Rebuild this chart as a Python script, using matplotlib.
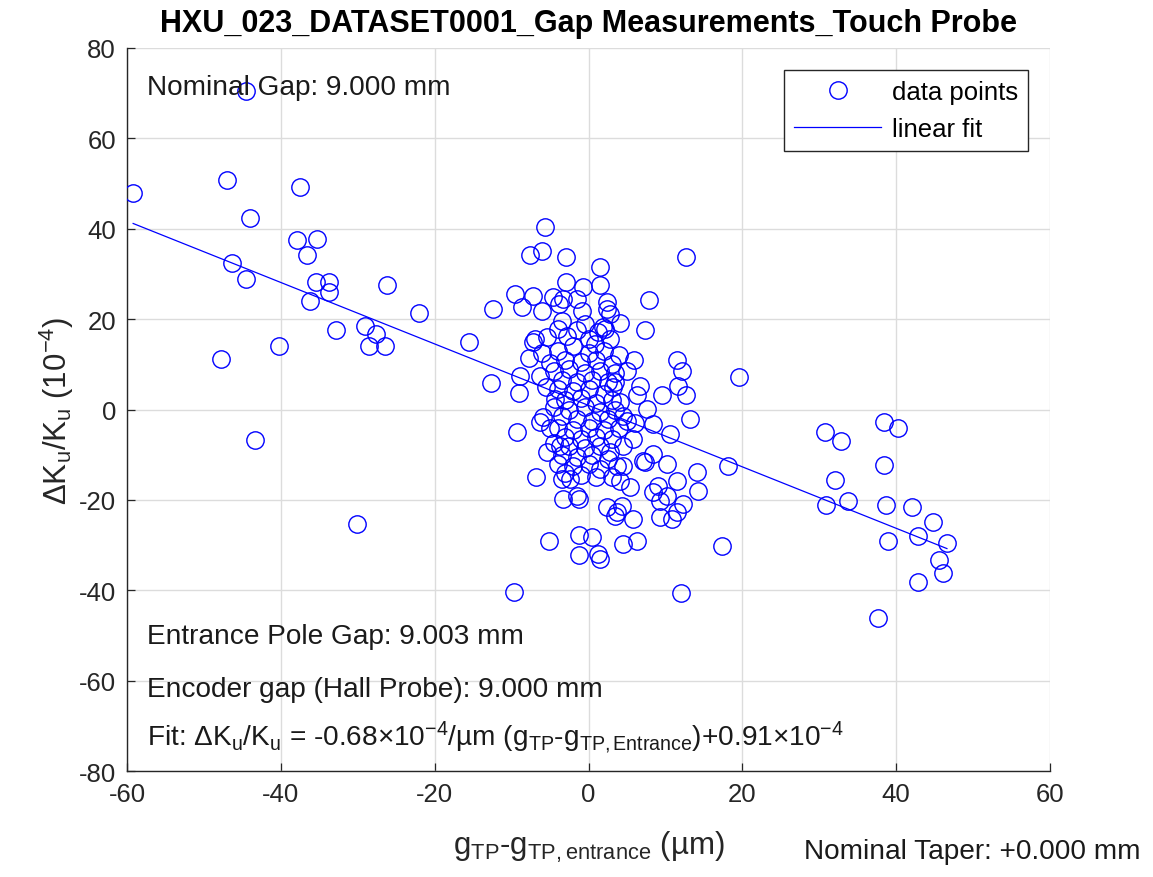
import numpy as np
import matplotlib
matplotlib.use("Agg")
import matplotlib.pyplot as plt

plt.rcParams['font.family'] = ['Liberation Sans', 'DejaVu Sans']
plt.rcParams['mathtext.fontset'] = 'custom'
plt.rcParams['mathtext.rm'] = 'Liberation Sans'
plt.rcParams['mathtext.it'] = 'Liberation Sans'
plt.rcParams['mathtext.bf'] = 'Liberation Sans:bold'
plt.rcParams['axes.unicode_minus'] = False

# ---- data ----
left_x = [-59.2, -44.5, -47.0, -37.5, -44.0, -46.3, -37.9, -35.3, -36.6, -44.5, -35.4, -33.7, -33.7, -36.2,
          -26.2, -22.0, -32.8, -29.0, -27.6, -28.5, -26.4, -47.8, -40.2, -43.3, -30.1, -15.5, -12.4, -12.7]
left_y = [48.0, 70.5, 50.8, 49.2, 42.4, 32.4, 37.5, 37.7, 34.2, 28.9, 28.2, 28.3, 26.0, 24.0,
          27.5, 21.3, 17.6, 18.5, 16.7, 14.0, 14.0, 11.2, 14.0, -6.7, -25.3, 15.0, 22.3, 5.9]

right_x = [19.6, 30.7, 32.8, 38.4, 40.2, 38.4, 32.1, 18.2, 30.9, 33.7, 38.7, 42.0, 44.8, 42.9, 46.6,
           39.0, 45.6, 46.1, 42.9, 37.6, 17.3, 14.1, 14.3, 12.0, -9.7]
right_y = [7.3, -5.0, -7.0, -2.7, -4.2, -12.2, -15.5, -12.6, -21.1, -20.2, -21.1, -21.6, -24.8, -28.1, -29.5,
           -29.2, -33.2, -36.2, -38.1, -46.1, -30.1, -13.9, -18.0, -40.5, -40.4]

center_x = [-5.7, -7.6, -6.0, -2.9, 1.5, 1.5, -2.9, -0.75, -9.6, -7.2, -8.6, -6.0, -4.6, -3.8, -3.3, -1.5,
            -0.9, -4.0, -7.0, -5.4, -2.8, 1.2, 1.9, 12.7, 7.9, 7.3, 2.4, 2.4, 4.1, 2.8, 2.1, 2.8,
            5.9, 11.5, 12.1, 12.7, 11.7, 9.6, 6.7, -9.1, -8.9, -7.8, -7.2,
            -5.0, -6.3, -4.4, -5.9, -6.3, -5.4, -3.7, -9.3,
            13.2, 7.6, 8.4, 10.6, 6.3, 4.1, 3.4, 3.2, 8.4, 2.8, 5.8,
            -6.8, -3.3, -1.3, -5.1, -1.2, 0.5, -1.2, 1.5, 1.3,
            4.5, 6.3, 12.3, 11.5, 9.3, 10.8, 5.8, 3.4, 11.5, 9.1, 8.4, 10.2, 9.3, 7.1, 10.2, 5.4, 4.1,
            2.4, 4.3, 4.5, 1.5, 7.3, 3.7, -1.5, -2.4, -3.5, 3.7]
center_y = [40.3, 34.2, 35.1, 33.7, 31.5, 27.5, 28.3, 27.2, 25.6, 25.2, 22.6, 21.9, 24.8, 23.3, 24.4, 24.4,
            21.9, 17.8, 15.6, 16.0, 16.3, 17.1, 18.3, 33.7, 24.2, 17.6, 23.7, 22.2, 19.1, 21.1, 17.8, 15.6,
            11.0, 11.0, 8.6, 3.1, 5.3, 3.1, 5.3, 3.6, 7.5, 11.5, 14.9,
            10.4, 7.5, 2.3, -1.7, -2.8, -9.5, -8.0, -4.9,
            -2.1, 0.1, -3.2, -5.4, 3.1, 1.6, 6.0, 4.9, -9.8, -9.5, -6.5,
            -15.0, -19.8, -19.8, -29.0, -27.8, -28.3, -32.3, -33.1, -32.0,
            -29.8, -29.0, -20.9, -22.7, -23.9, -24.2, -24.2, -23.5, -15.8, -16.9, -18.3, -19.1, -20.2, -11.3, -12.1, -17.2, -15.8,
            -21.6, -21.3, -12.4, -13.2, -11.7, -12.4, -19.1, -15.4, -15.4, -22.7]

core_x = [-4.0, -2.0, 0.0, 2.0, 4.0, -3.0, -1.0, 1.0, 3.0, -4.5, -2.5, -0.5, 1.5, 3.5, -3.5, -1.5, 0.5, 2.5,
          -4.0, -2.0, 0.0, 2.0, -3.0, -1.0, 1.0, 3.0, -4.5, -2.5, -0.5, 1.5, 3.5, -3.5, -1.5, 0.5, 2.5, 4.5,
          -4.0, -2.0, 0.0, 2.0, 4.0, -3.0, -1.0, 1.0, 3.0, -4.5, -2.5, -0.5, 1.5, -3.5, -1.5, 0.5, 2.5,
          -4.0, -2.0, 0.0, -3.0, -1.0, 1.0, 3.0, -5.5, -5.0, -6.0, 5.0, 5.0, 6.0, 4.5, 0.0, -1.5, -3.5, -0.5, 0.8]
core_y = [13.0, 14.0, 12.5, 13.0, 12.0, 11.0, 10.5, 11.0, 10.0, 8.5, 9.0, 8.0, 8.5, 8.0, 6.5, 6.0, 6.5, 6.0,
          4.5, 4.0, 4.5, 3.5, 2.0, 2.5, 1.5, 2.0, 0.5, 0.0, 0.5, -0.5, 0.0, -1.5, -2.0, -2.5, -2.0, -1.5,
          -4.0, -4.5, -4.0, -4.5, -4.0, -6.0, -6.5, -6.0, -6.5, -7.5, -8.0, -8.5, -8.0, -10.0, -10.5, -10.0, -11.0,
          -12.0, -12.5, -12.0, -14.0, -14.5, -15.0, -15.0, 5.0, -4.0, 12.5, 8.5, -2.5, -3.0, -8.0, 15.5, 17.5, 19.5, 19.0, 14.5]

gx = np.array(left_x + right_x + center_x + core_x)
gy = np.array(left_y + right_y + center_y + core_y)

fit_slope = -0.68
fit_intercept = 0.91

title = "HXU_023_DATASET0001_Gap Measurements_Touch Probe"
xticks = [-60, -40, -20, 0, 20, 40, 60]
yticks = [-80, -60, -40, -20, 0, 20, 40, 60, 80]

# ---- figure ----
fig = plt.figure(figsize=(11.53, 8.78), dpi=100)
ax = fig.add_axes([127/1153, 1 - 772/878, (1050-127)/1153, (772-49)/878])

ax.plot(gx, gy, linestyle='none', marker='o', markersize=12.5, markerfacecolor='none',
        markeredgecolor='#0000ff', markeredgewidth=1.0, label='data points', zorder=3)
fx = np.array([gx.min(), gx.max()])
ax.plot(fx, fit_slope * fx + fit_intercept, color='#0000ff', linewidth=0.9, label='linear fit', zorder=4)

ax.set_xlim(-60, 60)
ax.set_ylim(-80, 80)
ax.set_xticks(xticks)
ax.set_yticks(yticks)
ax.grid(True, color='#dcdcdc', linewidth=1.0)
ax.set_axisbelow(True)
for s in ['top', 'right']:
    ax.spines[s].set_visible(False)
for s in ['left', 'bottom']:
    ax.spines[s].set_color('#262626')
    ax.spines[s].set_linewidth(1.0)
ax.tick_params(direction='in', length=6, width=0.9, colors='#262626', labelsize=18.5, pad=8)

ax.set_title(title, fontsize=22, fontweight='bold', color='black', pad=12)
ax.set_xlabel(r'g$_\mathregular{TP}$-g$_\mathregular{TP,entrance}$ (µm)', fontsize=22.5, color='#262626', labelpad=16)
ax.set_ylabel(r'$\Delta$K$_\mathregular{u}$/K$_\mathregular{u}$ (10$^\mathregular{-4}$)', fontsize=22.5, color='#262626', labelpad=2)

txt_kw = dict(fontsize=20.2, color='#1a1a1a', va='center', ha='left')
ax.text(-57.4, 71.3, 'Nominal Gap: 9.000 mm', **txt_kw)
ax.text(-57.4, -50.1, 'Entrance Pole Gap: 9.003 mm', **txt_kw)
ax.text(-57.4, -61.8, 'Encoder gap (Hall Probe): 9.000 mm', **txt_kw)
ax.text(-57.4, -72.3, r'Fit: $\Delta$K$_\mathregular{u}$/K$_\mathregular{u}$ = -0.68×10$^\mathregular{-4}$/µm '
        r'(g$_\mathregular{TP}$-g$_\mathregular{TP,Entrance}$)+0.91×10$^\mathregular{-4}$', **txt_kw)

fig.text(1140/1153, 1 - 852/878, 'Nominal Taper: +0.000 mm', fontsize=20.2, color='#1a1a1a', ha='right', va='center')

leg = ax.legend(loc='upper right', fontsize=18.5, frameon=True, fancybox=False, framealpha=1,
                edgecolor='#262626', borderaxespad=0.85, handlelength=3.4, borderpad=0.4,
                labelspacing=0.5, handletextpad=0.4)
leg.get_frame().set_linewidth(1.0)

fig.savefig('out.png', dpi=100)
